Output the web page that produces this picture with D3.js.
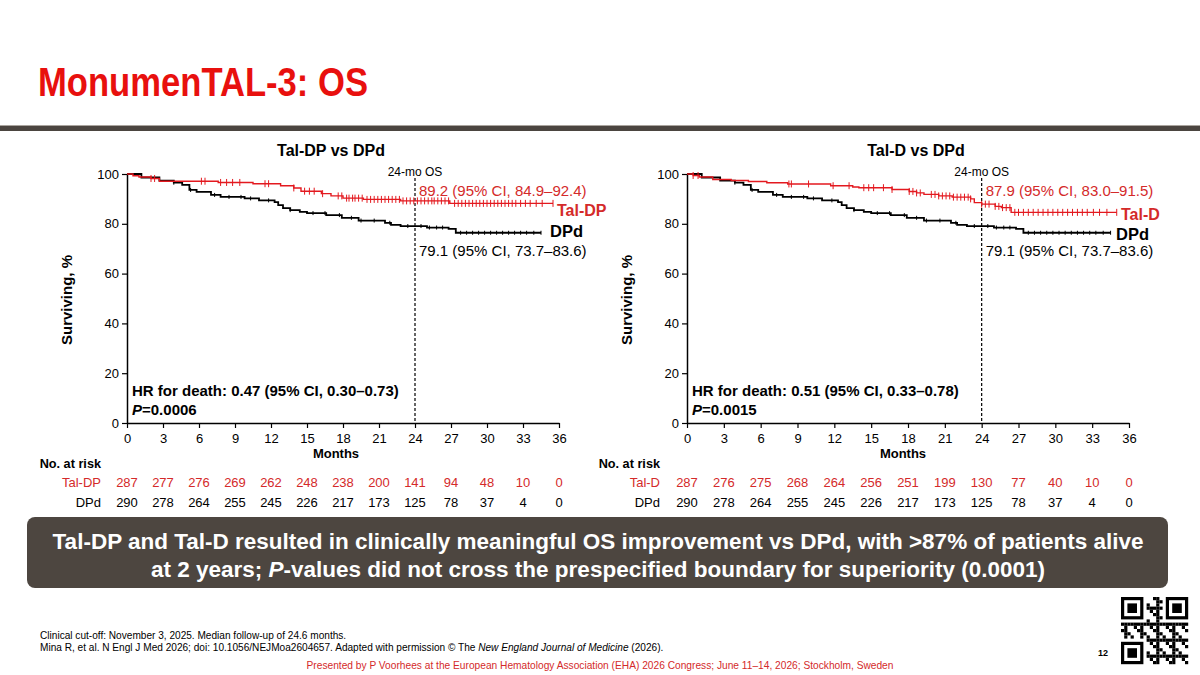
<!DOCTYPE html>
<html>
<head>
<meta charset="utf-8">
<script src="https://cdn.jsdelivr.net/npm/d3@7"></script>
<style>
body{margin:0;background:#fff;}
svg{display:block;font-family:'Liberation Sans',Arial,sans-serif;}
</style>
</head>
<body>
<script>
const WIDTH = 1200;
const HEIGHT = 675;
const RED = '#e3191f';
const TEXT_RED = '#d42a2a';

// axes
const months = [0,3,6,9,12,15,18,21,24,27,30,33,36];
const survTicks = [0,20,40,60,80,100];

// Kaplan-Meier steps [month, % surviving]
const dpdSteps = [[0,100],[1.2,98.6],[2.7,97.3],[3.9,96.5],[4.6,95.6],[5.2,93.6],[5.8,92.8],[7.0,91.6],[7.8,90.8],[9.8,90.2],[11.0,89.4],[12.3,88.7],[12.6,87.5],[13.0,86.3],[13.6,85.5],[14.4,84.8],[15.0,84.3],[16.6,83.5],[17.9,82.4],[19.3,81.3],[21.5,80.4],[22.0,79.6],[22.8,79.1],[25.0,78.5],[26.8,78.0],[27.4,76.4],[34.5,76.4]];
const talDpSteps = [[0,100],[0.5,99.3],[1.0,98.8],[2.0,98.2],[2.7,97.1],[7.6,96.6],[10.5,96.1],[12.8,95.3],[13.9,94.4],[14.5,93.1],[16.2,92.1],[17.0,91.2],[18.0,90.3],[19.7,89.8],[22.8,89.2],[26.9,88.2],[35.5,88.2]];
const talDSteps = [[0,100],[0.5,99.4],[1.0,98.8],[2.1,97.8],[3.6,97.4],[5.0,97.0],[6.5,96.5],[8.2,96.0],[11.7,95.3],[13.5,94.8],[14.0,94.5],[16.7,93.8],[18.1,93.0],[18.7,92.4],[19.3,91.8],[20.5,91.2],[21.6,90.7],[23.1,90.0],[23.4,88.5],[24.0,87.9],[25.1,87.0],[25.6,86.5],[26.4,84.6],[35.0,84.6]];

// censoring times
const dpdCensor = [3.9,5.3,7.3,8.5,9.5,10.3,11.8,13.6,15.5,16.5,17.7,18.7,19.5,20.6,21.9,23.4,24.5,25.2,25.8,26.3,27.8,28.3,28.8,29.3,29.8,30.3,30.8,31.3,31.8,32.3,32.8,33.3,33.9,34.5];
const talDpCensor = [2.0,2.3,6.2,6.5,7.8,8.3,8.8,9.4,11.5,11.8,13.9,14.8,15.2,15.6,16.3,17.6,17.9,18.3,18.5,18.8,19.0,19.3,19.6,20.0,20.3,20.6,20.9,21.2,21.5,21.8,22.1,22.4,22.7,23.0,23.3,23.6,23.9,24.2,24.5,24.8,25.1,25.4,25.6,25.9,26.2,26.5,26.8,27.3,27.6,27.9,28.2,28.5,28.8,29.1,29.4,29.7,30.0,30.3,30.6,30.9,31.2,31.5,31.8,32.1,32.4,32.8,33.2,33.6,34.1,34.6,35.5];
const talDCensor = [0.5,0.9,8.3,8.5,9.9,11.9,13.2,14.4,14.8,15.2,16.0,16.7,18.1,18.4,18.7,19.0,19.9,20.2,20.5,20.8,21.1,21.4,21.7,22.0,22.3,22.6,22.9,23.1,24.0,24.3,24.6,25.1,25.4,25.7,26.0,26.3,26.7,27.0,27.4,27.8,28.2,28.6,29.0,29.4,29.8,30.2,30.6,31.0,31.4,31.8,32.2,32.6,33.1,33.6,34.2,35.0];

// number at risk
const riskTalDP = [287,277,276,269,262,248,238,200,141,94,48,10,0];
const riskTalD = [287,276,275,268,264,256,251,199,130,77,40,10,0];
const riskDPd = [290,278,264,255,245,226,217,173,125,78,37,4,0];

var svg = d3.select('body').append('svg')
	.attr('width',WIDTH)
	.attr('height',HEIGHT);

svg.append('rect').attr('width',WIDTH).attr('height',HEIGHT).attr('fill','#fff');

// header
svg.append('text')
	.attr('x',38).attr('y',96)
	.attr('font-size',41).attr('font-weight','bold')
	.attr('fill','#e8100e')
	.attr('textLength',330).attr('lengthAdjust','spacingAndGlyphs')
	.text('MonumenTAL-3: OS');
svg.append('rect').attr('x',0).attr('y',125).attr('width',WIDTH).attr('height',1).attr('fill','#aaa59f');
svg.append('rect').attr('x',0).attr('y',126).attr('width',WIDTH).attr('height',5).attr('fill','#4b4540');

var survAt = function(steps,t){
	var v = steps[0][1];
	steps.forEach(function(s){ if (s[0] <= t) v = s[1]; });
	return v;
};

var drawPanel = function(p){
	var x = d3.scaleLinear().domain([0,36]).range([p.left,p.right]);
	var y = d3.scaleLinear().domain([0,100]).range([423,174]);
	var g = svg.append('g');

	g.append('text')
		.attr('x',p.titleX).attr('y',156)
		.attr('text-anchor','middle')
		.attr('font-size',16).attr('font-weight','bold')
		.text(p.title);

	var xAxis = d3.axisBottom(x).tickValues(months).tickSize(5).tickSizeOuter(0);
	var ax = g.append('g').attr('transform','translate(0,423)').call(xAxis);
	var yAxis = d3.axisLeft(y).tickValues(survTicks).tickSize(5).tickSizeOuter(0);
	var ay = g.append('g').attr('transform','translate('+p.left+',0)').call(yAxis);
	[ax,ay].forEach(function(a){
		a.select('.domain').attr('stroke','#000').attr('stroke-width',1.5);
		a.selectAll('.tick line').attr('stroke','#000').attr('stroke-width',1.2);
		a.selectAll('.tick text').attr('font-size',13).attr('fill','#000')
			.attr('font-family',"'Liberation Sans',Arial,sans-serif");
	});
	ax.selectAll('.tick text').attr('dy','0.9em');

	g.append('text')
		.attr('transform','translate('+p.yTitleX+',300) rotate(-90)')
		.attr('text-anchor','middle')
		.attr('font-size',15).attr('font-weight','bold')
		.text('Surviving, %');
	g.append('text')
		.attr('x',p.monthsX).attr('y',458)
		.attr('text-anchor','middle')
		.attr('font-size',13).attr('font-weight','bold')
		.text('Months');

	// 24-month marker
	g.append('line')
		.attr('x1',x(24)).attr('x2',x(24))
		.attr('y1',178).attr('y2',423)
		.attr('stroke','#000').attr('stroke-width',1.2)
		.attr('stroke-dasharray','3,2');
	g.append('text')
		.attr('x',x(24)).attr('y',176)
		.attr('text-anchor','middle').attr('font-size',12)
		.text('24-mo OS');

	var line = d3.line()
		.x(function(d){ return x(d[0]); })
		.y(function(d){ return y(d[1]); })
		.curve(d3.curveStepAfter);

	var curves = [
		{steps:dpdSteps, censor:dpdCensor, color:'#000', width:1.8, tick:2},
		{steps:p.armSteps, censor:p.armCensor, color:RED, width:1.4, tick:3.5}
	];
	curves.forEach(function(c){
		g.append('path')
			.attr('d',line(c.steps))
			.attr('fill','none')
			.attr('stroke',c.color)
			.attr('stroke-width',c.width);
		g.append('g').selectAll('line')
			.data(c.censor)
			.enter()
			.append('line')
			.attr('x1',function(d){ return x(d); })
			.attr('x2',function(d){ return x(d); })
			.attr('y1',function(d){ return y(survAt(c.steps,d)) - c.tick; })
			.attr('y2',function(d){ return y(survAt(c.steps,d)) + c.tick; })
			.attr('stroke',c.color)
			.attr('stroke-width',1);
	});

	// annotations
	g.append('text').attr('x',x(24)+4).attr('y',196)
		.attr('font-size',15).attr('fill',TEXT_RED).text(p.armOS);
	g.append('text').attr('x',x(24)+4).attr('y',256)
		.attr('font-size',15).attr('fill','#000').text('79.1 (95% CI, 73.7–83.6)');
	g.append('text').attr('x',p.armLabelX).attr('y',p.armLabelY)
		.attr('font-size',16).attr('font-weight','bold').attr('fill',TEXT_RED).text(p.arm);
	g.append('text').attr('x',p.dpdLabelX).attr('y',p.dpdLabelY)
		.attr('font-size',16.5).attr('font-weight','bold').attr('fill','#000').text('DPd');

	g.append('text').attr('x',x(0)+5).attr('y',396)
		.attr('font-size',15).attr('font-weight','bold').text(p.hr);
	var pt = g.append('text').attr('x',x(0)+5).attr('y',415)
		.attr('font-size',15).attr('font-weight','bold');
	pt.append('tspan').attr('font-style','italic').text('P');
	pt.append('tspan').text('=' + p.pValue);

	// number at risk
	g.append('text').attr('x',p.riskLabelX).attr('y',468)
		.attr('text-anchor','end').attr('font-size',12.7).attr('font-weight','bold')
		.text('No. at risk');
	var rows = [
		{label:p.arm, values:p.armRisk, color:TEXT_RED, y:487},
		{label:'DPd', values:riskDPd, color:'#000', y:507}
	];
	rows.forEach(function(r){
		g.append('text').attr('x',p.riskLabelX).attr('y',r.y)
			.attr('text-anchor','end').attr('font-size',13).attr('fill',r.color)
			.text(r.label);
		g.append('g').selectAll('text')
			.data(r.values)
			.enter()
			.append('text')
			.attr('x',function(d,i){ return x(months[i]); })
			.attr('y',r.y)
			.attr('text-anchor','middle')
			.attr('font-size',13)
			.attr('fill',r.color)
			.text(function(d){ return d; });
	});
};

drawPanel({
	left:127, right:559, title:'Tal-DP vs DPd', titleX:331, yTitleX:72, monthsX:336,
	arm:'Tal-DP', armSteps:talDpSteps, armCensor:talDpCensor, armRisk:riskTalDP,
	armOS:'89.2 (95% CI, 84.9–92.4)', armLabelX:557, armLabelY:216, dpdLabelX:550, dpdLabelY:237,
	hr:'HR for death: 0.47 (95% CI, 0.30–0.73)', pValue:'0.0006', riskLabelX:101
});
drawPanel({
	left:687, right:1129, title:'Tal-D vs DPd', titleX:916, yTitleX:632, monthsX:903,
	arm:'Tal-D', armSteps:talDSteps, armCensor:talDCensor, armRisk:riskTalD,
	armOS:'87.9 (95% CI, 83.0–91.5)', armLabelX:1121, armLabelY:220, dpdLabelX:1116, dpdLabelY:240,
	hr:'HR for death: 0.51 (95% CI, 0.33–0.78)', pValue:'0.0015', riskLabelX:660
});

// key message box
svg.append('rect')
	.attr('x',27).attr('y',517).attr('width',1141).attr('height',71)
	.attr('rx',8).attr('fill','#4d4640');
var msg = svg.append('g').attr('fill','#fff').attr('font-size',22.5).attr('font-weight','bold')
	.attr('text-anchor','middle');
msg.append('text').attr('x',598).attr('y',549)
	.text('Tal-DP and Tal-D resulted in clinically meaningful OS improvement vs DPd, with >87% of patients alive');
var m2 = msg.append('text').attr('x',598).attr('y',577);
m2.append('tspan').text('at 2 years; ');
m2.append('tspan').attr('font-style','italic').text('P');
m2.append('tspan').text('-values did not cross the prespecified boundary for superiority (0.0001)');

// footer
svg.append('text').attr('x',40).attr('y',639).attr('font-size',10.1)
	.text('Clinical cut-off: November 3, 2025. Median follow-up of 24.6 months.');
var ref = svg.append('text').attr('x',40).attr('y',651).attr('font-size',10.1);
ref.append('tspan').text('Mina R, et al. N Engl J Med 2026; doi: 10.1056/NEJMoa2604657. Adapted with permission © The ');
ref.append('tspan').attr('font-style','italic').text('New England Journal of Medicine');
ref.append('tspan').text(' (2026).');
svg.append('text').attr('x',600).attr('y',669).attr('text-anchor','middle')
	.attr('font-size',10.2).attr('fill',TEXT_RED)
	.text('Presented by P Voorhees at the European Hematology Association (EHA) 2026 Congress; June 11–14, 2026; Stockholm, Sweden');
svg.append('text').attr('x',1103).attr('y',656).attr('text-anchor','middle')
	.attr('font-size',9).attr('font-weight','bold').text('12');

// QR code (decorative)
var qr = svg.append('g').attr('transform','translate(1121,597)');
var N = 21, cell = 3.2;
for (var i = 0; i < N; i++) {
	for (var j = 0; j < N; j++) {
		var inFinder = (i < 8 && j < 8) || (i < 8 && j >= N-8) || (i >= N-8 && j < 8);
		if (inFinder) continue;
		if ((i*7 + j*11 + i*j*3) % 5 < 2) {
			qr.append('rect').attr('x',j*cell).attr('y',i*cell).attr('width',cell).attr('height',cell).attr('fill','#000');
		}
	}
}
[[0,0],[0,N-7],[N-7,0]].forEach(function(f){
	qr.append('rect').attr('x',f[1]*cell+cell/2).attr('y',f[0]*cell+cell/2)
		.attr('width',6*cell).attr('height',6*cell).attr('fill','none').attr('stroke','#000').attr('stroke-width',cell);
	qr.append('rect').attr('x',(f[1]+2)*cell).attr('y',(f[0]+2)*cell)
		.attr('width',3*cell).attr('height',3*cell).attr('fill','#000');
});
</script>
</body>
</html>
